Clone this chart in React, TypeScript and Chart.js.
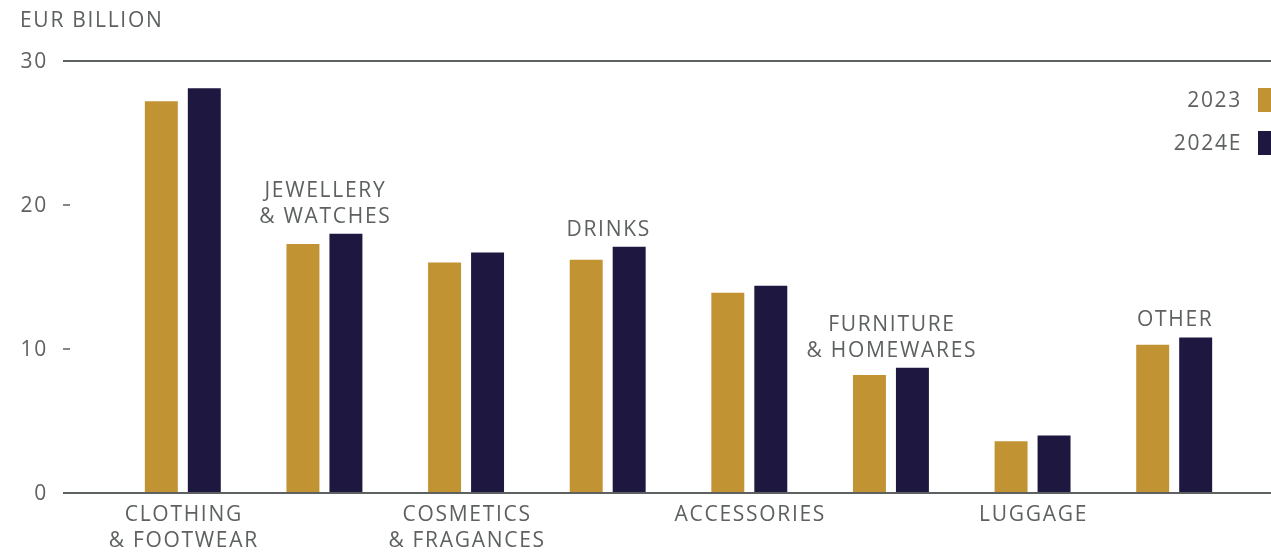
import React, { useEffect, useRef } from "react";
import { Chart, registerables } from "chart.js";

Chart.register(...registerables);

const categories: string[][] = [
  ["CLOTHING", "& FOOTWEAR"],
  ["JEWELLERY", "& WATCHES"],
  ["COSMETICS", "& FRAGANCES"],
  ["DRINKS"],
  ["ACCESSORIES"],
  ["FURNITURE", "& HOMEWARES"],
  ["LUGGAGE"],
  ["OTHER"],
];
const values2023 = [27.2, 17.3, 16.0, 16.2, 13.9, 8.2, 3.6, 10.3];
const values2024 = [28.1, 18.0, 16.7, 17.1, 14.4, 8.7, 4.0, 10.8];
const yTicks = [0, 10, 20, 30];
const seriesLabels = ["2023", "2024E"];
const unitLabel = "EUR BILLION";

const GOLD = "#C19332";
const NAVY = "#1E1840";
const TEXT = "#5E6161";
const LINE = "#5E6161";
const FONT = "21px 'Open Sans'";
const SPACING = "1.7px";

const overlay = {
  id: "overlay",
  afterDraw(chart: any) {
    const { ctx, scales } = chart;
    const xs = scales.x;
    const ys = scales.y;
    const W = chart.width;
    ctx.save();
    ctx.font = FONT;
    (ctx as any).letterSpacing = SPACING;
    ctx.fillStyle = TEXT;

    // unit label
    ctx.textAlign = "left";
    ctx.textBaseline = "alphabetic";
    ctx.fillText(unitLabel, 20, 27);

    // y axis ticks, labels and lines
    yTicks.forEach((t) => {
      const py = Math.round(ys.getPixelForValue(t));
      ctx.textAlign = "right";
      ctx.textBaseline = "middle";
      ctx.fillStyle = TEXT;
      ctx.fillText(String(t), 48, py + 1);
      ctx.strokeStyle = LINE;
      ctx.lineWidth = 2;
      ctx.beginPath();
      if (t === yTicks[0] || t === yTicks[yTicks.length - 1]) {
        ctx.moveTo(63, py);
        ctx.lineTo(W, py);
      } else {
        ctx.lineWidth = 1.5;
        ctx.moveTo(63, py);
        ctx.lineTo(70, py);
      }
      ctx.stroke();
    });

    // category labels
    ctx.fillStyle = TEXT;
    ctx.textAlign = "center";
    ctx.textBaseline = "alphabetic";
    categories.forEach((lines, i) => {
      const cx = xs.getPixelForValue(i) + 1;
      if (i % 2 === 0) {
        lines.forEach((l, k) => ctx.fillText(l, cx, 521 + k * 26));
      } else {
        const top = Math.min(
          ys.getPixelForValue(values2023[i]),
          ys.getPixelForValue(values2024[i])
        );
        const last = top - 11;
        lines.forEach((l, k) =>
          ctx.fillText(l, cx, last - (lines.length - 1 - k) * 26)
        );
      }
    });

    // legend
    const colors = [GOLD, NAVY];
    const ly = [100, 143];
    seriesLabels.forEach((s, k) => {
      ctx.textAlign = "right";
      ctx.textBaseline = "middle";
      ctx.fillStyle = TEXT;
      ctx.fillText(s, 1242, ly[k] + 1);
      ctx.fillStyle = colors[k];
      ctx.fillRect(1258, ly[k] - 12, 24, 24);
    });
    ctx.restore();
  },
};

export default function App() {
  const ref = useRef<HTMLCanvasElement | null>(null);
  useEffect(() => {
    if (!ref.current) return;
    const chart = new Chart(ref.current, {
      type: "bar",
      data: {
        labels: categories.map((c) => c.join(" ")),
        datasets: [
          {
            label: seriesLabels[0],
            data: values2023,
            backgroundColor: GOLD,
            barPercentage: 0.767,
            categoryPercentage: 0.607,
          },
          {
            label: seriesLabels[1],
            data: values2024,
            backgroundColor: NAVY,
            barPercentage: 0.767,
            categoryPercentage: 0.607,
          },
        ],
      },
      options: {
        responsive: false,
        animation: false,
        devicePixelRatio: 1,
        layout: { padding: { left: 112, right: 26, top: 61, bottom: 59 } },
        plugins: { legend: { display: false }, tooltip: { enabled: false } },
        scales: {
          x: { display: false },
          y: { display: false, min: 0, max: 30 },
        },
      },
      plugins: [overlay],
    });
    return () => chart.destroy();
  }, []);
  return (
    <div style={{ position: "absolute", left: 0, top: 0, width: 1271, height: 552, background: "#fff" }}>
      <canvas ref={ref} width={1271} height={552} />
    </div>
  );
}
